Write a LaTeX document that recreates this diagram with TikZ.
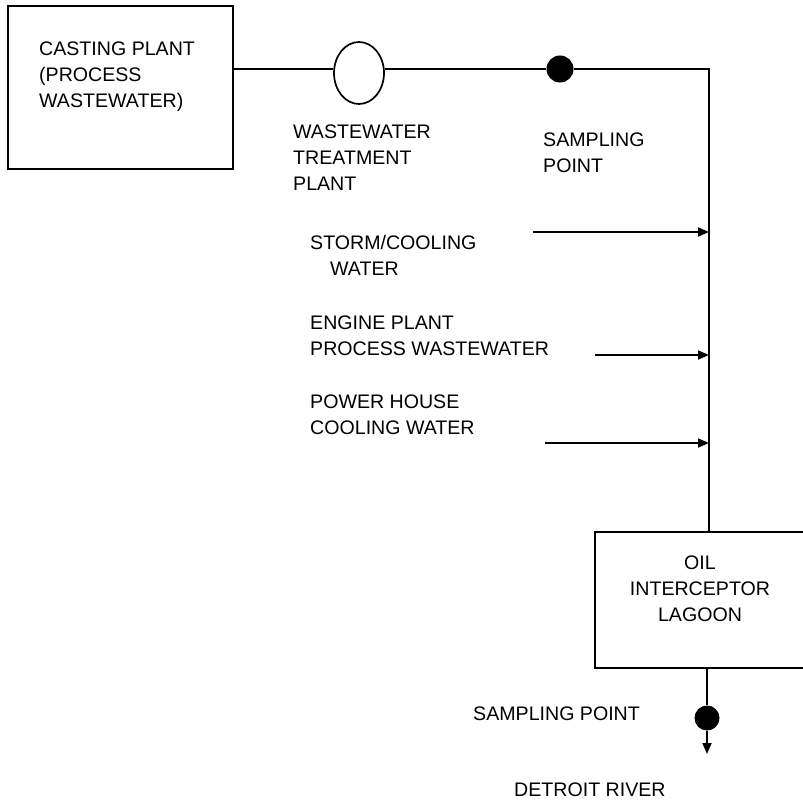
\documentclass[tikz,border=0pt]{standalone}
\usepackage{fontspec}
\setmainfont{Liberation Sans}
\usetikzlibrary{arrows.meta,shapes.geometric}
\begin{document}
\begin{tikzpicture}[x=1pt,y=-1pt,
  line/.style={line width=1.7pt},
  arr/.style={line width=1.7pt,-{Triangle[length=11pt,width=9pt]}},
  boxshape/.style={draw,line width=1.7pt,rectangle,inner sep=0pt},
  lbl/.style={inner sep=0pt,align=left,font=\fontsize{19.6}{26}\selectfont},
  dot/.style={circle,fill=black,inner sep=0pt,minimum size=27pt}]
\useasboundingbox (0,0) rectangle (803,802);
\clip (0,0) rectangle (803,802);
% boxes
\node[boxshape,anchor=north west,minimum width=225pt,minimum height=163pt] (casting) at (7,5) {};
\node[boxshape,anchor=north west,minimum width=230pt,minimum height=136pt] (lagoon) at (594,531) {};
\node[draw,ellipse,line width=1.7pt,inner sep=0pt,minimum width=50pt,minimum height=62pt] (wwtp) at (359,73) {};
\node[dot] (s1) at (560,69) {};
\node[dot,minimum size=25pt] (s2) at (707,718) {};
% connectors
\coordinate (c1) at (232,69);
\coordinate (c2) at (709,69);
\draw[line] (c1) -- (c1 -| wwtp.west);
\draw[line] (c1 -| wwtp.east) -- (s1) -- (c2) -- (c2 |- lagoon.north);
\coordinate (a1) at (533,232);
\coordinate (a2) at (595,355);
\coordinate (a3) at (545,443);
\draw[arr] (a1) -- (a1 -| c2);
\draw[arr] (a2) -- (a2 -| c2);
\draw[arr] (a3) -- (a3 -| c2);
\coordinate (tip) at (707,754);
\draw[line] (s2 |- lagoon.south) -- (s2);
\draw[arr] (s2) -- (tip);
% labels
\node[lbl,anchor=north west] (tcast) at (39,42) {CASTING PLANT\\(PROCESS\\WASTEWATER)};
\node[lbl,anchor=north west] (twwtp) at (293,125) {WASTEWATER\\TREATMENT\\PLANT};
\node[lbl,anchor=north west] (ts1) at (543,133) {SAMPLING\\POINT};
\node[lbl,anchor=north west] (tstorm) at (310,235) {STORM/COOLING\\\hspace*{20pt}WATER};
\node[lbl,anchor=north west] (tengine) at (310,316) {ENGINE PLANT\\PROCESS WASTEWATER};
\node[lbl,anchor=north west] (tpower) at (310,395) {POWER HOUSE\\COOLING WATER};
\node[lbl,anchor=north,align=center] (tlagoon) at (700,556) {OIL\\INTERCEPTOR\\LAGOON};
\node[lbl,anchor=west] (ts2) at (473,714) {SAMPLING POINT};
\node[lbl,anchor=west] (triver) at (514,790) {DETROIT RIVER};
\end{tikzpicture}
\end{document}
